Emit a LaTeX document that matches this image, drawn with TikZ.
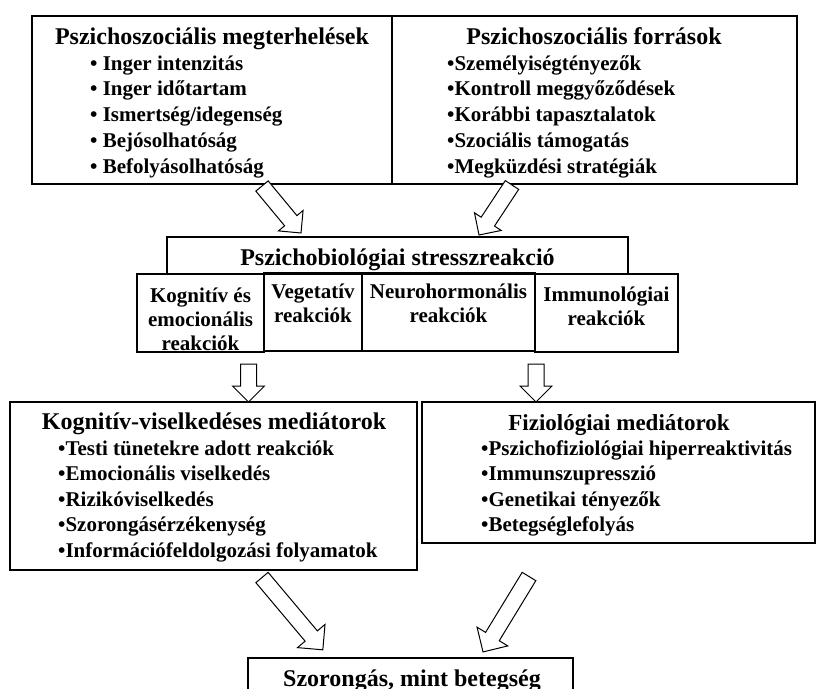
\documentclass[tikz,border=0pt]{standalone}
\usepackage{fontspec}
\setmainfont{Liberation Serif}
\usetikzlibrary{calc,fit}

\newcommand{\headfont}{\fontsize{24}{28}\selectfont\bfseries}
\newcommand{\listfont}{\fontsize{21}{25}\selectfont\bfseries}
\newcommand{\fizheadfont}{\fontsize{23}{27}\selectfont\bfseries}

\tikzset{
  frame/.style={draw, line width=1.2pt, inner sep=0pt},
  ttl/.style={inner sep=0pt, anchor=base, font=\headfont},
  itm/.style={inner sep=0pt, anchor=base west, font=\listfont},
  sub/.style={inner sep=0pt, anchor=base, font=\listfont},
  fat/.style={draw, line width=1pt, fill=white, line join=miter},
}

% hollow block arrow from tail coordinate #2 to tip coordinate #3;
% #1 is the half width of the head (the head is a right-angled tip)
\newcommand{\fatarrow}[3][16]{%
  \draw[fat] let \p1=(#2), \p2=(#3),
      \n1={atan2(\y2-\y1,\x2-\x1)}, \n2={veclen(\x2-\x1,\y2-\y1)} in
    ([shift={(\p1)},rotate=\n1]0,-8)
    -- ([shift={(\p1)},rotate=\n1]{\n2-#1},-8)
    -- ([shift={(\p1)},rotate=\n1]{\n2-#1},-#1)
    -- ([shift={(\p1)},rotate=\n1]{\n2},0)
    -- ([shift={(\p1)},rotate=\n1]{\n2-#1},#1)
    -- ([shift={(\p1)},rotate=\n1]{\n2-#1},8)
    -- ([shift={(\p1)},rotate=\n1]0,8) -- cycle;}

\begin{document}
\begin{tikzpicture}[x=1pt,y=1pt]
\useasboundingbox (0,0) rectangle (816,-688);
\clip (0,0) rectangle (816,-688);

% ---- top row: loads and resources
\node[frame, fit={(32,-16) (392,-184)}] (load) {};
\node[frame, fit={(392,-16) (797,-184)}] (res) {};
\node[ttl] (loadT) at (212,-44) {Pszichoszociális megterhelések};
\foreach \t [count=\i from 0] in {Inger intenzitás, Inger időtartam,
    Ismertség/idegenség, Bejósolhatóság, Befolyásolhatóság}
  \node[itm] (load-\i) at (90,{-70-25.75*\i}) {• \t};
\node[ttl] (resT) at (594,-44) {Pszichoszociális források};
\foreach \t [count=\i from 0] in {Személyiségtényezők, Kontroll meggyőződések,
    Korábbi tapasztalatok, Szociális támogatás, Megküzdési stratégiák}
  \node[itm] (res-\i) at (447,{-70-25.75*\i}) {•\t};

% ---- stress reaction and its four components
\node[frame, fit={(167,-237) (628,-274)}] (stress) {};
\node[ttl] (stressT) at (397.5,-265) {Pszichobiológiai stresszreakció};
\node[frame, fit={(137,-274) (264,-352)}] (cog) {};
\node[frame, fit={(264,-273) (362,-351)}] (veg) {};
\node[frame, fit={(362,-273) (535,-351)}] (neu) {};
\node[frame, fit={(535,-274) (678,-352)}] (imm) {};
\node[sub] (cog-0) at (200.5,-302) {Kognitív és};
\node[sub] (cog-1) at (200.5,-326) {emocionális};
\node[sub] (cog-2) at (200.5,-350) {reakciók};
\node[sub] (veg-0) at (313,-298) {Vegetatív};
\node[sub] (veg-1) at (313,-322) {reakciók};
\node[sub] (neu-0) at (448.5,-298) {Neurohormonális};
\node[sub] (neu-1) at (448.5,-322) {reakciók};
\node[sub] (imm-0) at (606.5,-301) {Immunológiai};
\node[sub] (imm-1) at (606.5,-325) {reakciók};

% ---- mediators
\node[frame, fit={(10,-402) (417,-570)}] (cbm) {};
\node[ttl] (cbmT) at (214,-429) {Kognitív-viselkedéses mediátorok};
\foreach \t [count=\i from 0] in {Testi tünetekre adott reakciók,
    Emocionális viselkedés, Rizikóviselkedés, Szorongásérzékenység,
    Információfeldolgozási folyamatok}
  \node[itm] (cbm-\i) at (58,{-455-25.5*\i}) {•\t};
\node[frame, fit={(422,-402) (815,-543)}] (fiz) {};
\node[ttl, font=\fizheadfont] (fizT) at (619,-430) {Fiziológiai mediátorok};
\foreach \t [count=\i from 0] in {Pszichofiziológiai hiperreaktivitás,
    Immunszupresszió, Genetikai tényezők, Betegséglefolyás}
  \node[itm] (fiz-\i) at (481,{-455-25.5*\i}) {•\t};

% ---- outcome
\node[frame, fit={(248,-658) (573,-720)}] (out) {};
\node[ttl] (outT) at (412,-686) {Szorongás, mint betegség};

% ---- block arrows
\coordinate (a1s) at (262,-186);   \coordinate (a1e) at (301,-233);
\coordinate (a2s) at (512,-185);   \coordinate (a2e) at (479,-235);
\coordinate (a3s) at (248.5,-364); \coordinate (a3e) at (248.5,-402);
\coordinate (a4s) at (536,-364);   \coordinate (a4e) at (536,-402);
\coordinate (a5s) at (262,-577.5); \coordinate (a5e) at (323,-650);
\coordinate (a6s) at (529,-576.5); \coordinate (a6e) at (483,-652);
\fatarrow{a1s}{a1e}
\fatarrow{a2s}{a2e}
\fatarrow{a3s}{a3e}
\fatarrow{a4s}{a4e}
\fatarrow[18]{a5s}{a5e}
\fatarrow[18]{a6s}{a6e}
\end{tikzpicture}
\end{document}
